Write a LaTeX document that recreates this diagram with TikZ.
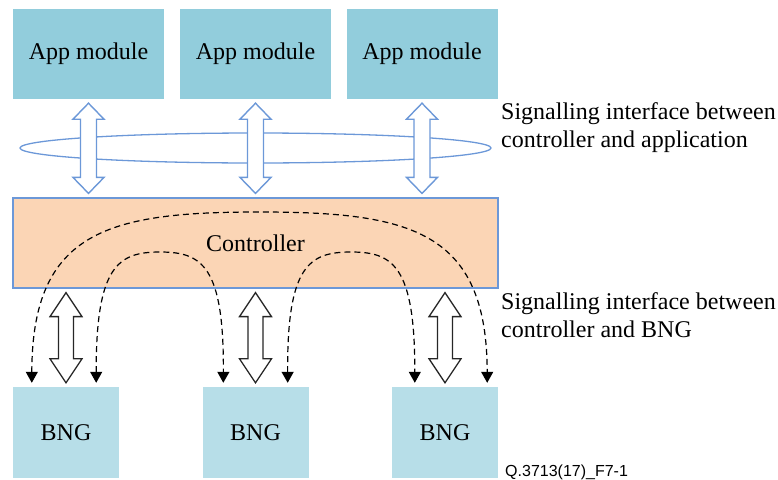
\documentclass[tikz,border=0pt]{standalone}
\usepackage{fontspec}
\setmainfont{Liberation Serif}
\newfontfamily\labelsans{Liberation Sans}
\usetikzlibrary{arrows.meta,calc,shapes.geometric}

\definecolor{appfill}{RGB}{146,205,220}
\definecolor{bngfill}{RGB}{183,222,232}
\definecolor{ctrlfill}{RGB}{251,213,181}
\definecolor{ifblue}{RGB}{108,152,216}

% vertical double-headed block arrow between two points
% #1 style, #2 top tip, #3 bottom tip, #4 shaft half width, #5 head half width, #6 head length
\newcommand{\blockarrow}[6]{%
  \path[#1] let \p1=(#2), \p2=(#3) in
    (\x1,\y1) -- (\x1+#5,\y1-#6) -- (\x1+#4,\y1-#6) -- (\x1+#4,\y2+#6)
    -- (\x1+#5,\y2+#6) -- (\x1,\y2) -- (\x1-#5,\y2+#6) -- (\x1-#4,\y2+#6)
    -- (\x1-#4,\y1-#6) -- (\x1-#5,\y1-#6) -- cycle;}

\tikzset{
  box/.style={inner sep=0pt, font=\fontsize{24}{29}\selectfont},
  appbox/.style={box, fill=appfill, minimum width=151pt, minimum height=90pt},
  bngbox/.style={box, fill=bngfill, minimum width=106pt, minimum height=91pt},
  ctrlbox/.style={box, fill=ctrlfill, draw=ifblue, line width=1.2pt,
                  minimum width=485pt, minimum height=90pt},
  apparrow/.style={draw=ifblue, fill=white, line width=1.4pt, line join=miter},
  bngarrow/.style={draw=black!85, fill=white, line width=1.3pt, line join=miter},
  sigpath/.style={draw=black, line width=1.2pt, dash pattern=on 6pt off 4pt,
                  {Triangle[width=12pt,length=11pt]}-{Triangle[width=12pt,length=11pt]}},
  sidelabel/.style={anchor=base west, align=left, inner sep=0pt,
                    font=\fontsize{24}{28}\selectfont},
}

\begin{document}
\begin{tikzpicture}[x=1pt, y=-1pt]
\useasboundingbox (0,0) rectangle (778,479);

% application modules
\node[appbox] (app1) at (88.5,54) {App module};
\node[appbox] (app2) at (255.5,54) {App module};
\node[appbox] (app3) at (422,54) {App module};

% controller
\node[ctrlbox] (ctrl) at (255.5,243) {};
\node[box] (ctrltext) at (255.5,243) {Controller};

% broadband network gateways
\node[bngbox] (bng1) at (66,432.5) {BNG};
\node[bngbox] (bng2) at (255.5,432.5) {BNG};
\node[bngbox] (bng3) at (445,432.5) {BNG};

% interface ring between controller and applications
\node[draw=ifblue, line width=1.3pt, ellipse, minimum width=471pt, minimum height=30pt,
      inner sep=0pt] (ring) at (255.5,148) {};

% block arrows controller <-> applications
\foreach \a in {app1,app2,app3}{
  \blockarrow{apparrow}{$(\a.south)+(0,4)$}{$(ctrl.north -| \a)+(0,-4)$}{8pt}{15.5pt}{16pt}
}

% block arrows controller <-> BNG
\foreach \b in {bng1,bng2,bng3}{
  \blockarrow{bngarrow}{$(ctrl.south -| \b)+(0,4)$}{$(\b.north)+(0,-4)$}{7.5pt}{16pt}{24pt}
}

% dashed signalling paths between BNGs through the controller
\coordinate (o1) at ($(bng1.north west)+(19,-4)$);
\coordinate (o2) at ($(bng3.north east)+(-11,-4)$);
\coordinate (l1) at ($(bng1.north east)+(-23,-4)$);
\coordinate (l2) at ($(bng2.north west)+(21,-4)$);
\coordinate (r1) at ($(bng2.north east)+(-21,-4)$);
\coordinate (r2) at ($(bng3.north west)+(23,-4)$);

\draw[sigpath] (o1) .. controls (32,230) and (110,212) .. (259.5,212)
                    .. controls (409,212) and (487,230) .. (o2);
\draw[sigpath] (l1) .. controls (96,266) and (118,252) .. (160,252)
                    .. controls (202,252) and (224,266) .. (l2);
\draw[sigpath] (r1) .. controls (287,266) and (309,252) .. (351,252)
                    .. controls (393,252) and (415,266) .. (r2);

% interface labels (base anchor sits on the last line)
\node[sidelabel] (lab1) at (501,147) {Signalling interface between\\controller and application};
\node[sidelabel] (lab2) at (501,337) {Signalling interface between\\controller and BNG};

% figure reference
\node[anchor=base west, inner sep=0pt, font=\labelsans\fontsize{16}{18}\selectfont] (figref)
  at (505,476) {Q.3713(17)\_F7-1};
\end{tikzpicture}
\end{document}
